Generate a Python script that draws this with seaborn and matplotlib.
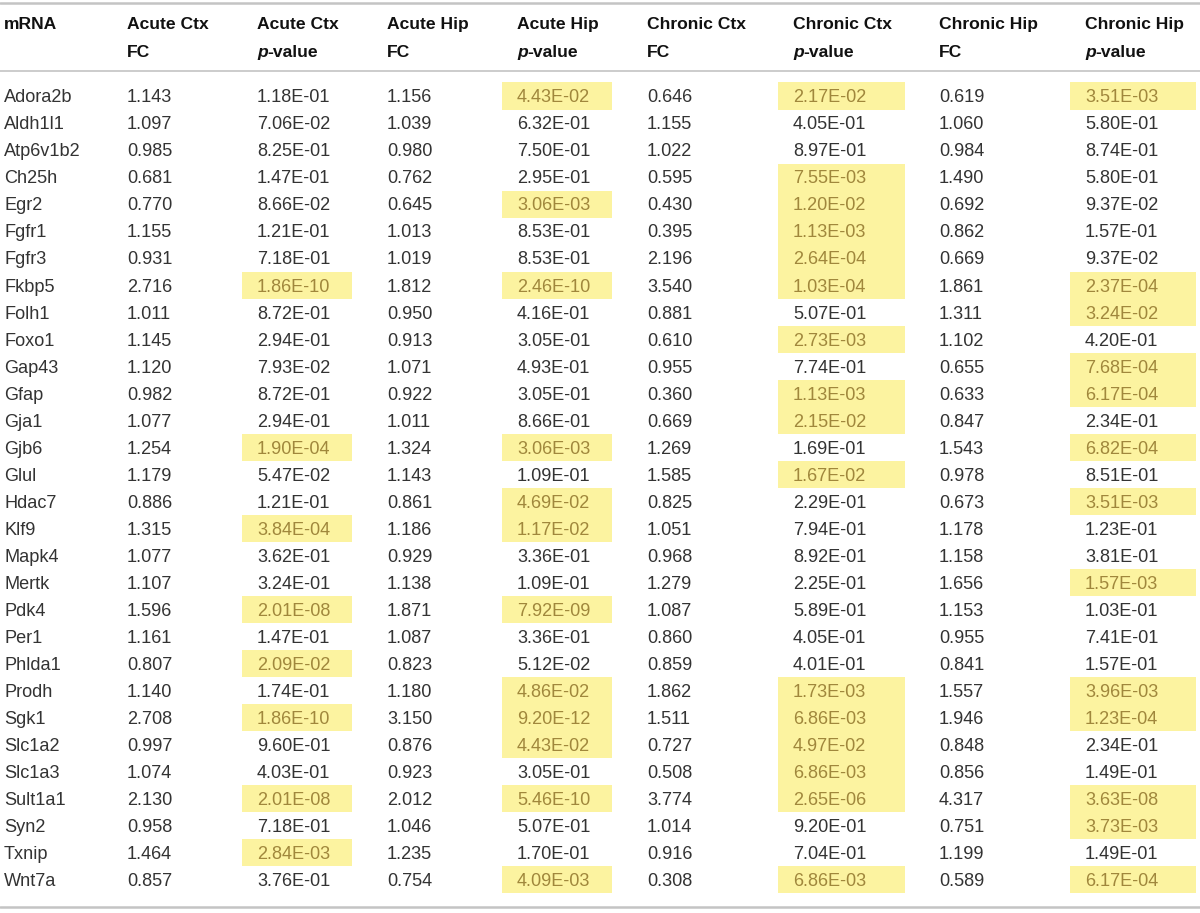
# gene expression table: fold change and p-values, acute vs chronic, cortex vs hippocampus

import numpy as np
import pandas as pd
import matplotlib.pyplot as plt
import seaborn as sns

genes = ["Adora2b", "Aldh1l1", "Atp6v1b2", "Ch25h", "Egr2", "Fgfr1", "Fgfr3", "Fkbp5",
         "Folh1", "Foxo1", "Gap43", "Gfap", "Gja1", "Gjb6", "Glul", "Hdac7", "Klf9",
         "Mapk4", "Mertk", "Pdk4", "Per1", "Phlda1", "Prodh", "Sgk1", "Slc1a2", "Slc1a3",
         "Sult1a1", "Syn2", "Txnip", "Wnt7a"]

acute_ctx_fc = [1.143, 1.097, 0.985, 0.681, 0.770, 1.155, 0.931, 2.716, 1.011, 1.145,
                1.120, 0.982, 1.077, 1.254, 1.179, 0.886, 1.315, 1.077, 1.107, 1.596,
                1.161, 0.807, 1.140, 2.708, 0.997, 1.074, 2.130, 0.958, 1.464, 0.857]
acute_ctx_p = [1.18e-01, 7.06e-02, 8.25e-01, 1.47e-01, 8.66e-02, 1.21e-01, 7.18e-01, 1.86e-10,
               8.72e-01, 2.94e-01, 7.93e-02, 8.72e-01, 2.94e-01, 1.90e-04, 5.47e-02, 1.21e-01,
               3.84e-04, 3.62e-01, 3.24e-01, 2.01e-08, 1.47e-01, 2.09e-02, 1.74e-01, 1.86e-10,
               9.60e-01, 4.03e-01, 2.01e-08, 7.18e-01, 2.84e-03, 3.76e-01]
acute_hip_fc = [1.156, 1.039, 0.980, 0.762, 0.645, 1.013, 1.019, 1.812, 0.950, 0.913,
                1.071, 0.922, 1.011, 1.324, 1.143, 0.861, 1.186, 0.929, 1.138, 1.871,
                1.087, 0.823, 1.180, 3.150, 0.876, 0.923, 2.012, 1.046, 1.235, 0.754]
acute_hip_p = [4.43e-02, 6.32e-01, 7.50e-01, 2.95e-01, 3.06e-03, 8.53e-01, 8.53e-01, 2.46e-10,
               4.16e-01, 3.05e-01, 4.93e-01, 3.05e-01, 8.66e-01, 3.06e-03, 1.09e-01, 4.69e-02,
               1.17e-02, 3.36e-01, 1.09e-01, 7.92e-09, 3.36e-01, 5.12e-02, 4.86e-02, 9.20e-12,
               4.43e-02, 3.05e-01, 5.46e-10, 5.07e-01, 1.70e-01, 4.09e-03]
chronic_ctx_fc = [0.646, 1.155, 1.022, 0.595, 0.430, 0.395, 2.196, 3.540, 0.881, 0.610,
                  0.955, 0.360, 0.669, 1.269, 1.585, 0.825, 1.051, 0.968, 1.279, 1.087,
                  0.860, 0.859, 1.862, 1.511, 0.727, 0.508, 3.774, 1.014, 0.916, 0.308]
chronic_ctx_p = [2.17e-02, 4.05e-01, 8.97e-01, 7.55e-03, 1.20e-02, 1.13e-03, 2.64e-04, 1.03e-04,
                 5.07e-01, 2.73e-03, 7.74e-01, 1.13e-03, 2.15e-02, 1.69e-01, 1.67e-02, 2.29e-01,
                 7.94e-01, 8.92e-01, 2.25e-01, 5.89e-01, 4.05e-01, 4.01e-01, 1.73e-03, 6.86e-03,
                 4.97e-02, 6.86e-03, 2.65e-06, 9.20e-01, 7.04e-01, 6.86e-03]
chronic_hip_fc = [0.619, 1.060, 0.984, 1.490, 0.692, 0.862, 0.669, 1.861, 1.311, 1.102,
                  0.655, 0.633, 0.847, 1.543, 0.978, 0.673, 1.178, 1.158, 1.656, 1.153,
                  0.955, 0.841, 1.557, 1.946, 0.848, 0.856, 4.317, 0.751, 1.199, 0.589]
chronic_hip_p = [3.51e-03, 5.80e-01, 8.74e-01, 5.80e-01, 9.37e-02, 1.57e-01, 9.37e-02, 2.37e-04,
                 3.24e-02, 4.20e-01, 7.68e-04, 6.17e-04, 2.34e-01, 6.82e-04, 8.51e-01, 3.51e-03,
                 1.23e-01, 3.81e-01, 1.57e-03, 1.03e-01, 7.41e-01, 1.57e-01, 3.96e-03, 1.23e-04,
                 2.34e-01, 1.49e-01, 3.63e-08, 3.73e-03, 1.49e-01, 6.17e-04]

header_top = ["mRNA", "Acute Ctx", "Acute Ctx", "Acute Hip", "Acute Hip",
              "Chronic Ctx", "Chronic Ctx", "Chronic Hip", "Chronic Hip"]
header_bottom = ["", "FC", "p", "FC", "p", "FC", "p", "FC", "p"]

df = pd.DataFrame({
    "gene": genes,
    "acute_ctx_fc": acute_ctx_fc, "acute_ctx_p": acute_ctx_p,
    "acute_hip_fc": acute_hip_fc, "acute_hip_p": acute_hip_p,
    "chronic_ctx_fc": chronic_ctx_fc, "chronic_ctx_p": chronic_ctx_p,
    "chronic_hip_fc": chronic_hip_fc, "chronic_hip_p": chronic_hip_p,
})

# layout (pixels)
col_x = [4, 127, 257, 387, 517, 647, 793, 939, 1085]
box_width = [0, 0, 110, 0, 110, 0, 127, 0, 126]
first_row_y = 96
row_step = 27.03
row_y = first_row_y + row_step * np.arange(len(df))

text_color = "#333333"
head_color = "#111111"
hl_fill = "#fcf3a0"
hl_text = "#a0873c"
rule_color = "#c4c4c4"
fs_head = 12.6
fs_body = 13.1

sns.set_theme(style="white")
plt.rcParams["font.family"] = ["Liberation Sans", "DejaVu Sans"]

fig = plt.figure(figsize=(12, 9.13), dpi=100)
ax = fig.add_axes([0, 0, 1, 1])
ax.set_xlim(0, 1200)
ax.set_ylim(913, 0)
ax.axis("off")

# rules
ax.axhline(3, color=rule_color, lw=1.8)
ax.axhline(71, color=rule_color, lw=1.2)
ax.axhline(907, color=rule_color, lw=1.8)

# header
fig.canvas.draw()
renderer = fig.canvas.get_renderer()
for j, (top, bottom) in enumerate(zip(header_top, header_bottom)):
    ax.text(col_x[j], 29, top, fontsize=fs_head, fontweight="bold", color=head_color, va="baseline")
    if bottom == "p":
        t = ax.text(col_x[j], 57, "p", fontsize=fs_head, fontweight="bold", fontstyle="italic",
                    color=head_color, va="baseline")
        bb = t.get_window_extent(renderer)
        x_end = ax.transData.inverted().transform((bb.x1, bb.y0))[0]
        ax.text(x_end, 57, "-value", fontsize=fs_head, fontweight="bold", color=head_color, va="baseline")
    elif bottom:
        ax.text(col_x[j], 57, bottom, fontsize=fs_head, fontweight="bold", color=head_color, va="baseline")

# significance highlights (p < 0.05)
cols = list(df.columns)
for j, c in enumerate(cols):
    if c.endswith("_p"):
        sig = df[c].values < 0.05
        ax.barh(row_y[sig], width=box_width[j], left=col_x[j] - 15, height=row_step,
                color=hl_fill, linewidth=0, zorder=0)

# body
for i, row in df.iterrows():
    y = row_y[i] + 6.3
    for j, c in enumerate(cols):
        v = row[c]
        color = text_color
        if c == "gene":
            s = v
        elif c.endswith("_fc"):
            s = f"{v:.3f}"
        else:
            s = f"{v:.2E}"
            if v < 0.05:
                color = hl_text
        ax.text(col_x[j], y, s, fontsize=fs_body, color=color, va="baseline")

fig.savefig("out.png", dpi=100)
